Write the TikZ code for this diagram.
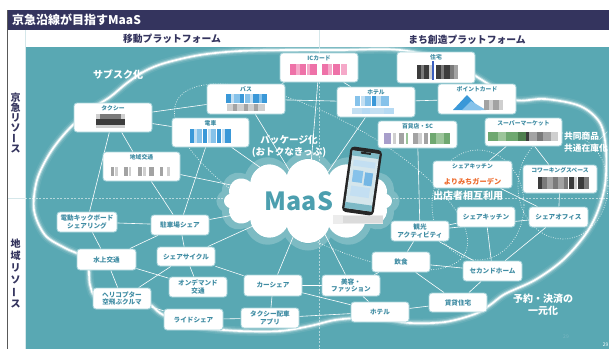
\documentclass[tikz,border=0pt]{standalone}
\usepackage{fontspec}
\setmainfont{Noto Sans CJK JP}
\usetikzlibrary{shapes.symbols}

\definecolor{navy}{HTML}{34345E}
\definecolor{panel}{HTML}{59A8B3}
\definecolor{boxline}{HTML}{A6D3DA}
\definecolor{boxtext}{HTML}{3F8CA3}
\definecolor{maastext}{HTML}{4C9FAF}
\definecolor{orangetext}{HTML}{EE6A2C}
\definecolor{rule}{HTML}{D5E7EA}
\definecolor{pagenum}{HTML}{7AB8C2}
\definecolor{pk1}{HTML}{EE72A8}
\definecolor{pk2}{HTML}{F5A9C9}
\definecolor{dk1}{HTML}{3C3C3C}
\definecolor{dk2}{HTML}{7A7A7A}
\definecolor{gy1}{HTML}{A3A3A3}
\definecolor{gy2}{HTML}{CFCFCF}
\definecolor{bl1}{HTML}{3A98D8}
\definecolor{bl2}{HTML}{86C2EA}
\definecolor{bl3}{HTML}{C3DFF2}
\definecolor{blu2}{HTML}{3B5FC0}
\definecolor{pu1}{HTML}{A89ECB}
\definecolor{gr1}{HTML}{6FA870}
\definecolor{gr2}{HTML}{9CC59A}
\definecolor{gr3}{HTML}{4F7F4F}
\definecolor{screen}{HTML}{D5E6EC}
\definecolor{screenbar}{HTML}{7DB9C6}

\pgfdeclarelayer{bg}
\pgfdeclarelayer{edges}
\pgfsetlayers{bg,edges,main}

\tikzset{
  box/.style={rectangle, rounded corners=3pt, fill=white, draw=boxline,
    line width=0.9pt, inner sep=1pt, align=center, text=boxtext,
    font=\fontsize{6.6}{7.6}\selectfont\bfseries},
  boxtitle/.style={anchor=north, inner sep=0pt, text=boxtext,
    font=\fontsize{5.8}{6.5}\selectfont\bfseries},
  link/.style={white, line width=0.6pt},
  note/.style={text=white, align=center, inner sep=0pt,
    font=\fontsize{10}{12}\selectfont\bfseries},
  ring/.style={white, line width=0.7pt, dash pattern=on 0.8pt off 1.6pt, opacity=0.85},
  vlabel/.style={text=navy, align=center, inner sep=0pt},
}

% a row of pixel blocks: y, height, list of x/width/colour
\newcommand\pixrow[3]{\foreach \pa/\pb/\pc in {#3} {\fill[\pc] (\pa,#1) rectangle ++(\pb,#2);}}

% the glowing loop around all services
\newcommand\glowloop{plot[smooth cycle, tension=0.55] coordinates {
  (110,97) (127,83) (145,71) (165,63) (200,55) (240,51) (290,50) (340,50) (400,50)
  (450,62) (490,85) (515,100) (545,99) (580,106) (600,123) (606,150)
  (605,185) (597,213) (585,235) (563,260) (535,280) (505,294) (490,305)
  (475,314) (445,322) (410,323) (385,319) (360,318) (335,320) (310,326)
  (280,331) (240,331) (205,328) (178,322) (160,313) (148,304) (120,300)
  (97,298) (90,285) (88,265) (80,255) (65,248) (45,235) (34,210) (37,180)
  (50,153) (68,130) (90,110)}}

\begin{document}
\begin{tikzpicture}[x=1pt,y=-1pt]
\useasboundingbox (0,0) rectangle (609,349);

% ---------------- frame, header and panel ----------------
\begin{pgfonlayer}{bg}
  \fill[white] (0,0) rectangle (609,349);
  \fill[navy] (7,10) rectangle (609,30);
  \fill[panel] (25,47) rectangle (609,349);
  \draw[line width=1.2pt, black!65] (7.5,10) -- (7.5,349);
  \draw[line width=0.5pt, rule] (25,30) -- (25,349);
  \draw[line width=0.5pt, rule] (8,198) -- (25,198);
  \draw[line width=0.5pt, rule] (319,30) -- (319,47);
  \draw[white, opacity=0.55, line width=0.5pt, dash pattern=on 2pt off 1.5pt] (25,198) -- (609,198);
  \draw[white, opacity=0.55, line width=0.5pt, dash pattern=on 2pt off 1.5pt] (319,47) -- (319,349);

  \begin{scope}
    \clip (25,47) rectangle (609,349);
    \foreach \w/\o in {9/0.08, 6/0.16, 3.6/0.4, 1.7/1}
      \draw[white, line width=\w pt, opacity=\o] \glowloop;
    % package (bundled tickets) area
    \draw[ring] plot[domain=0:360, samples=100, smooth, variable=\t]
      ({321+163*cos(\t)*cos(28)-60*sin(\t)*sin(28)},
       {177+163*cos(\t)*sin(28)+60*sin(\t)*cos(28)});
    % mutual use by tenants
    \draw[ring] (478,205) ellipse [x radius=46, y radius=55];
    % shared goods / inventory
    \draw[ring] (563,186) ellipse [x radius=45, y radius=53];
  \end{scope}
\end{pgfonlayer}

% ---------------- titles ----------------
\node[anchor=west, text=white, inner sep=0pt, font=\fontsize{12}{14}\selectfont\bfseries]
  (title) at (12,20) {京急沿線が目指すMaaS};
\node[text=navy, inner sep=0pt, font=\fontsize{9.8}{11}\selectfont\bfseries]
  (mobility) at (172,39) {移動プラットフォーム};
\node[text=navy, inner sep=0pt, font=\fontsize{9.8}{11}\selectfont\bfseries]
  (town) at (467,39.5) {まち創造プラットフォーム};
\node[vlabel, font=\fontsize{10}{9.8}\selectfont\bfseries] (keikyu) at (15.5,123)
  {京\\急\\リ\\ソ\\\rotatebox[origin=c]{90}{ー}\\ス};
\node[vlabel, font=\fontsize{10}{12}\selectfont\bfseries] (local) at (15.5,273)
  {地\\域\\リ\\ソ\\\rotatebox[origin=c]{90}{ー}\\ス};

% ---------------- MaaS cloud and phone ----------------
\node[cloud, cloud puffs=12, aspect=2.1, minimum width=176pt, minimum height=92pt,
  draw=white, line width=7pt, opacity=0.22, inner sep=0pt] (maasglow) at (308,201) {};
\node[cloud, cloud puffs=12, aspect=2.1, minimum width=168pt, minimum height=84pt,
  fill=white, inner sep=0pt] (maas) at (308,201) {};
\node[text=maastext, inner sep=0pt, font=\fontsize{25}{28}\selectfont\bfseries]
  (maaslabel) at (299,201) {MaaS};

\fill[gray!15] (333,215) rectangle (383,224);
\fill[gray!28] (343,216) rectangle (383,223);
\begin{scope}[shift={(362,181)}, rotate=-8]
  \fill[black!85, rounded corners=4pt] (-16,-33) rectangle (16,33);
  \fill[screen] (-13.5,-29) rectangle (13.5,29);
  \fill[screenbar] (-13.5,-29) rectangle (13.5,-24);
  \fill[bl3] (-11,-20) rectangle (11,-14);
  \fill[bl2] (-10,-10) rectangle (0,2);
  \fill[bl1!70] (2,-9) rectangle (10,4);
  \fill[bl3] (-10,6) rectangle (9,16);
  \fill[screenbar] (-13.5,23) rectangle (13.5,29);
  \fill[black!85] (-5,-29) rectangle (5,-27);
\end{scope}

% ---------------- labels on the panel ----------------
\node[note] (subsc) at (118,75) {サブスク化};
\node[note, font=\fontsize{9.6}{12}\selectfont\bfseries] (package) at (289,146)
  {パッケージ化\\(おトクなきっぷ)};
\node[note] (tenant) at (468,196) {出店者相互利用};
\node[note, anchor=north west, align=left, font=\fontsize{8.7}{12}\selectfont\bfseries]
  (shared) at (564,132) {共同商品／\\共通在庫化};
\node[note] (onestop) at (543,305) {予約・決済の\\一元化};
\node[inner sep=0pt, text=pagenum, font=\fontsize{5}{6}\selectfont] (pagea) at (566,337) {29};
\node[anchor=east, inner sep=0pt, text=white, font=\fontsize{5}{6}\selectfont] (pageb) at (608.5,345) {29};

% ---------------- Keikyu mobility resources ----------------
\node[box, minimum width=78pt, minimum height=29pt] (taxi) at (113,117.5) {};
\node[boxtitle] (taxit) at ([yshift=-3pt]taxi.north) {タクシー};
\fill[gy2] (96,114) rectangle (125,128);
\fill[dk2] (100,114) rectangle (121,119);
\fill[dk1] (96,119) rectangle (125,125);

\node[box, minimum width=78pt, minimum height=30pt] (bus) at (246,99) {};
\node[boxtitle] (bust) at ([yshift=-3pt]bus.north) {バス};
\pixrow{94}{9}{226/5/bl1, 231/3/bl3, 234/6/bl2, 240/4/bl1, 245/5/bl2, 250/3/bl3, 253/6/bl1, 259/3/bl2, 262/5/bl1}
\pixrow{104}{7}{227/6/gy2, 233/4/gy1, 237/7/gy2, 244/4/gy1, 248/6/gy2, 254/4/gy1, 258/7/gy2}

\node[box, minimum width=78pt, minimum height=29pt] (ic) at (319,67.5) {};
\node[boxtitle] (ict) at ([yshift=-3pt]ic.north) {ICカード};
\pixrow{64}{11}{290/6/pk1, 296/4/pk2, 300/6/pk1, 307/3/pk2, 310/7/pk1, 322/6/pk1, 328/4/pk2, 333/7/pk1, 341/6/pk2}

\node[box, minimum width=77pt, minimum height=29pt] (train) at (210.5,132.5) {};
\node[boxtitle] (traint) at ([yshift=-3pt]train.north) {電車};
\pixrow{129}{14}{190/4/bl1, 194/3/bl3, 197/5/bl2, 203/4/bl1, 208/3/bl3, 211/5/bl2, 217/4/bl1, 222/3/bl3, 225/6/bl1}

\node[box, minimum width=77pt, minimum height=29pt] (chiiki) at (141.5,166.5) {};
\node[boxtitle] (chiikit) at ([yshift=-3pt]chiiki.north) {地域交通};
\pixrow{167}{9}{111/3/gy1, 115/3/gy2, 124/4/gy1, 129/2/gy2, 138/4/gy1, 143/3/gy2, 149/5/gy1, 160/3/gy1, 167/3/gy2}

% ---------------- local mobility resources ----------------
\node[box, minimum width=60pt, minimum height=20pt] (kick) at (87,222) {電動キックボード\\シェアリング};
\node[box, minimum width=58pt, minimum height=20pt] (parking) at (180,225) {駐車場シェア};
\node[box, minimum width=59pt, minimum height=21pt] (water) at (106.5,259.5) {水上交通};
\node[box, minimum width=58pt, minimum height=19pt] (cycle) at (186,256.5) {シェアサイクル};
\node[box, minimum width=58pt, minimum height=21pt] (heli) at (122,298.5) {ヘリコプター\\空飛ぶクルマ};
\node[box, minimum width=58pt, minimum height=20pt] (ondemand) at (198,287) {オンデマンド\\交通};
\node[box, minimum width=58pt, minimum height=21pt] (carshare) at (273,285.5) {カーシェア};
\node[box, minimum width=59pt, minimum height=21pt] (ride) at (193.5,319.5) {ライドシェア};
\node[box, minimum width=58pt, minimum height=20pt] (taxiapp) at (270,318) {タクシー配車\\アプリ};

% ---------------- town resources ----------------
\node[box, minimum width=58pt, minimum height=21pt] (beauty) at (351,285.5) {美容・\\ファッション};
\node[box, minimum width=58pt, minimum height=20pt] (hotelb) at (380,312) {ホテル};
\node[box, minimum width=58pt, minimum height=20pt] (food) at (401,262) {飲食};
\node[box, minimum width=58pt, minimum height=20pt] (kanko) at (420,231) {観光\\アクティビティ};
\node[box, minimum width=59pt, minimum height=20pt] (second) at (492.5,271) {セカンドホーム};
\node[box, minimum width=58pt, minimum height=19pt] (rental) at (458,302.5) {賃貸住宅};
\node[box, minimum width=58pt, minimum height=20pt] (kitchen) at (486,217) {シェアキッチン};
\node[box, minimum width=59pt, minimum height=20pt] (office) at (558.5,217) {シェアオフィス};

\node[box, minimum width=74pt, minimum height=28pt] (cowork) at (560,179) {};
\node[boxtitle] (coworkt) at ([yshift=-3pt]cowork.north) {コワーキングスペース};
\pixrow{177}{12}{538/4/dk1, 542/5/dk2, 547/6/gy1, 553/5/dk2, 558/6/gy1, 564/4/dk2, 569/5/dk1, 574/3/gy2, 578/6/dk1, 584/5/dk2}

\node[box, minimum width=79pt, minimum height=27pt] (yorimichi) at (472.5,174.5) {};
\node[boxtitle] (yorimichit) at ([yshift=-3pt]yorimichi.north) {シェアキッチン};
\node[inner sep=0pt, text=orangetext, font=\fontsize{7.2}{8}\selectfont\bfseries]
  (yorimichiname) at (472.5,181.5) {よりみちガーデン};

\node[box, minimum width=77pt, minimum height=28pt] (super) at (523.5,132) {};
\node[boxtitle] (supert) at ([yshift=-3pt]super.north) {スーパーマーケット};
\pixrow{132}{9}{488/10/gr1, 498/8/gr2, 506/12/gr1, 518/8/gr3, 526/3/dk1, 529/8/gy1, 537/6/dk2, 543/8/gy1, 551/7/gy2}

\node[box, minimum width=79pt, minimum height=27pt] (dept) at (417.5,134.5) {};
\node[boxtitle] (deptt) at ([yshift=-3pt]dept.north) {百貨店・SC};
\pixrow{133}{11}{384/7/pu1, 393/3/gy2, 399/5/gy1, 406/2/gr2, 413/5/gy1, 418/4/gy2, 424/4/gy1, 430/6/gr1, 436/8/gr2, 444/6/gr1}

\node[box, minimum width=78pt, minimum height=30pt] (hotela) at (376,102) {};
\node[boxtitle] (hotelat) at ([yshift=-3pt]hotela.north) {ホテル};
\pixrow{96}{10}{355/5/bl2, 361/4/bl3, 365/6/bl2, 372/4/bl1, 376/5/bl3, 381/8/bl2}
\pixrow{108}{6}{352/10/bl3, 362/8/bl2!60, 370/14/bl3, 384/10/bl2!60}

\node[box, minimum width=78pt, minimum height=31pt] (house) at (436,67.5) {};
\node[boxtitle] (houset) at ([yshift=-3pt]house.north) {住宅};
\pixrow{65}{14}{417/4/dk1, 421/3/dk2, 424/5/dk1, 429/3/gy2, 436/5/dk1, 441/3/dk2, 444/6/dk1, 450/4/dk2, 454/4/gy1}
\fill[blu2] (432,61) rectangle ++(2,19);

\node[box, minimum width=78pt, minimum height=30pt] (point) at (477,99) {};
\node[boxtitle] (pointt) at ([yshift=-3pt]point.north) {ポイントカード};
\fill[bl1] (453,110) -- (467,95) -- (481,110) -- cycle;
\fill[bl2] (462,110) -- (471,101) -- (486,110) -- cycle;
\pixrow{100}{10}{484/5/gy1, 489/4/gy2, 493/6/gy1, 499/4/gy2}

% ---------------- connectors ----------------
\begin{pgfonlayer}{edges}
  \foreach \a/\b in {taxi/bus, taxi/train, taxi/chiiki, taxi/kick,
      bus/ic, bus/hotela, ic/hotela, hotela/point, dept/kanko,
      train/parking, chiiki/parking, parking/kick, parking/water, parking/cycle,
      kick/water, water/heli, water/ondemand, cycle/heli, cycle/ondemand,
      cycle/carshare, carshare/taxiapp, carshare/beauty, carshare/hotelb,
      taxiapp/ride, taxiapp/hotelb, ride/heli, beauty/food, beauty/hotelb,
      hotelb/rental, food/rental, food/second, food/kanko, kanko/second,
      kanko/office, kanko/kitchen, second/kitchen, second/office, second/rental,
      super/cowork, super/yorimichi, cowork/office, yorimichi/office}
    \draw[link] (\a) -- (\b);
  \foreach \a in {bus, ic, hotela, train, chiiki, parking, cycle, carshare, beauty}
    \draw[link] (\a) -- (maas.center);
\end{pgfonlayer}

\end{tikzpicture}
\end{document}
